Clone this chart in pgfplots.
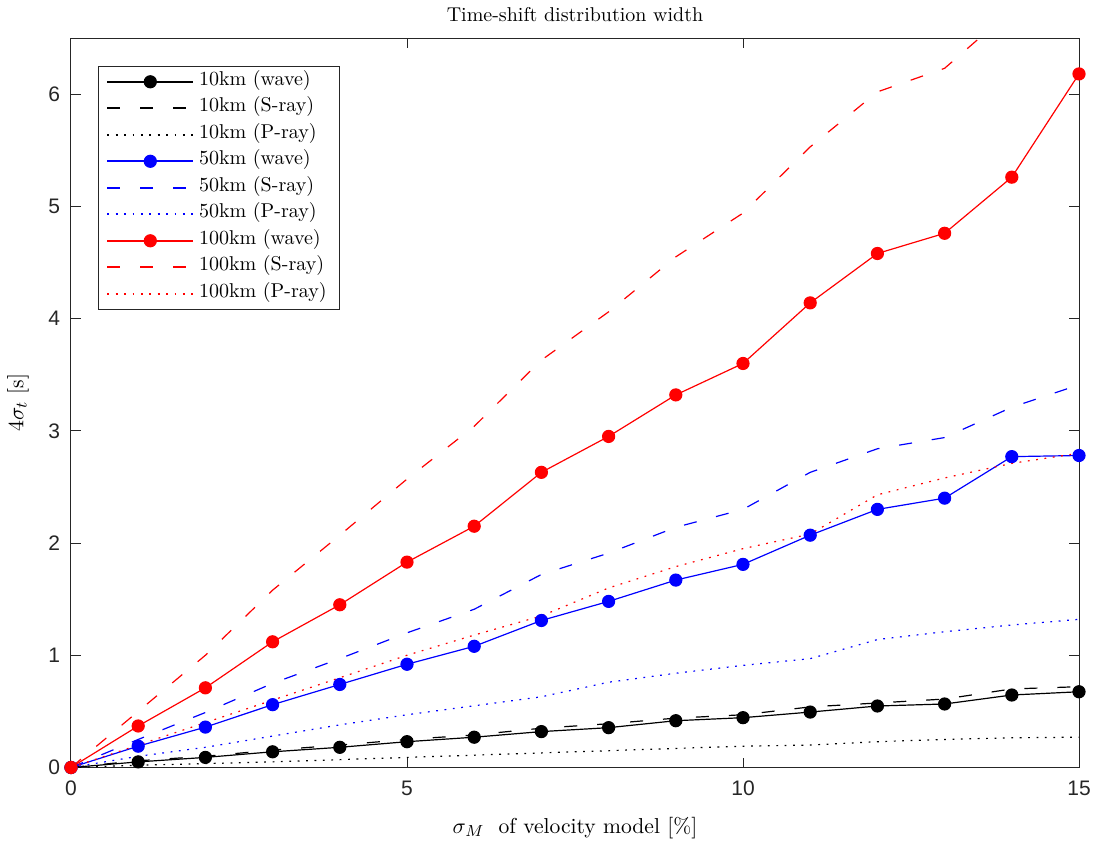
\documentclass[border=0pt]{standalone}
\usepackage{fontspec}
\usepackage{pgfplots}
\pgfplotsset{compat=1.18}
\newfontfamily\ticksf{Liberation Sans}
\definecolor{axcol}{RGB}{38,38,38}
\definecolor{kA}{RGB}{0,0,0}
\definecolor{bA}{RGB}{0,0,255}
\definecolor{rA}{RGB}{255,0,0}
\pgfplotsset{
  wave/.style={draw=#1, mark=*, mark size=3pt, mark options={draw=#1, fill=#1, solid}},
  sray/.style={draw=#1, dash pattern=on 6.5pt off 10pt},
  pray/.style={draw=#1, dash pattern=on 0.9pt off 3.3pt},
}
\begin{document}
\begin{tikzpicture}
\useasboundingbox (-35.5pt,-36.75pt) rectangle (512pt,383.75pt);
\begin{axis}[
  scale only axis,
  width=504pt, height=364.75pt,
  xmin=0, xmax=15, ymin=0, ymax=6.5,
  xtick={0,5,10,15}, ytick={0,1,2,3,4,5,6},
  tick align=inside, major tick length=5pt,
  axis line style={draw=axcol, line width=0.5pt},
  every tick/.style={draw=axcol, line width=0.5pt},
  /pgf/number format/assume math mode=true,
  tick label style={font=\ticksf\fontsize{10.5}{12}\selectfont, text=axcol},
  xticklabel style={yshift=-3pt},
  yticklabel style={xshift=-2pt},
  title={Time-shift distribution width},
  every axis title/.style={at={(axis description cs:0.5,1.0315)}, anchor=center, font=\fontsize{10}{12}\selectfont},
  xlabel={$\sigma_M$\ \ of velocity model [\%]},
  xlabel style={at={(axis description cs:0.5,-0.0829)}, anchor=center, font=\fontsize{10.8}{12}\selectfont},
  ylabel={$4\sigma_t$ [s]},
  ylabel style={at={(axis description cs:-0.0526,0.5)}, anchor=center, font=\fontsize{10.8}{12}\selectfont},
  legend cell align=left,
  legend image code/.code={%
    \draw[#1, mark=none, line width=0.8pt] (0pt,0pt) -- (43pt,0pt);
    \path[#1] plot coordinates {(21.5pt,0pt)};},
  legend style={at={(axis description cs:0.0268,0.9616)}, anchor=north west, draw=axcol, line width=0.5pt,
    font=\fontsize{10}{12}\selectfont, inner xsep=4pt, inner ysep=1pt,
    nodes={text height=8.4pt, text depth=4.85pt, inner ysep=0pt, inner xsep=2.5pt},
    /tikz/every even column/.append style={column sep=0pt}},
  every axis plot/.append style={line width=0.6pt},
]
% 10 km
\addplot[wave=kA] coordinates {(0,0) (1,0.05) (2,0.09) (3,0.14) (4,0.18) (5,0.23) (6,0.27) (7,0.32) (8,0.355) (9,0.417) (10,0.444) (11,0.494) (12,0.548) (13,0.566) (14,0.646) (15,0.675)};
\addlegendentry{10km (wave)}
\addplot[sray=kA] coordinates {(0,0) (1,0.06) (2,0.10) (3,0.155) (4,0.20) (5,0.25) (6,0.29) (7,0.35) (8,0.39) (9,0.44) (10,0.47) (11,0.54) (12,0.575) (13,0.61) (14,0.70) (15,0.72)};
\addlegendentry{10km (S-ray)}
\addplot[pray=kA] coordinates {(0,0) (1,0.02) (2,0.035) (3,0.05) (4,0.07) (5,0.09) (6,0.11) (7,0.13) (8,0.15) (9,0.17) (10,0.19) (11,0.20) (12,0.23) (13,0.25) (14,0.265) (15,0.27)};
\addlegendentry{10km (P-ray)}
% 50 km
\addplot[wave=bA] coordinates {(0,0) (1,0.19) (2,0.36) (3,0.56) (4,0.74) (5,0.92) (6,1.08) (7,1.31) (8,1.48) (9,1.67) (10,1.81) (11,2.07) (12,2.30) (13,2.40) (14,2.77) (15,2.78)};
\addlegendentry{50km (wave)}
\addplot[sray=bA] coordinates {(0,0) (1,0.25) (2,0.49) (3,0.75) (4,0.97) (5,1.20) (6,1.41) (7,1.72) (8,1.91) (9,2.14) (10,2.30) (11,2.63) (12,2.84) (13,2.94) (14,3.21) (15,3.41)};
\addlegendentry{50km (S-ray)}
\addplot[pray=bA] coordinates {(0,0) (1,0.10) (2,0.18) (3,0.28) (4,0.38) (5,0.47) (6,0.55) (7,0.63) (8,0.76) (9,0.84) (10,0.91) (11,0.97) (12,1.14) (13,1.21) (14,1.27) (15,1.32)};
\addlegendentry{50km (P-ray)}
% 100 km
\addplot[wave=rA] coordinates {(0,0) (1,0.37) (2,0.71) (3,1.12) (4,1.45) (5,1.83) (6,2.15) (7,2.63) (8,2.95) (9,3.32) (10,3.60) (11,4.14) (12,4.58) (13,4.76) (14,5.26) (15,6.18)};
\addlegendentry{100km (wave)}
\addplot[sray=rA] coordinates {(0,0) (1,0.50) (2,1.00) (3,1.58) (4,2.07) (5,2.57) (6,3.04) (7,3.63) (8,4.06) (9,4.55) (10,4.94) (11,5.53) (12,6.02) (13,6.23) (14,6.75) (15,7.2)};
\addlegendentry{100km (S-ray)}
\addplot[pray=rA] coordinates {(0,0) (1,0.20) (2,0.40) (3,0.60) (4,0.80) (5,1.00) (6,1.18) (7,1.35) (8,1.60) (9,1.79) (10,1.95) (11,2.08) (12,2.43) (13,2.58) (14,2.71) (15,2.80)};
\addlegendentry{100km (P-ray)}
\end{axis}
\end{tikzpicture}
\end{document}
